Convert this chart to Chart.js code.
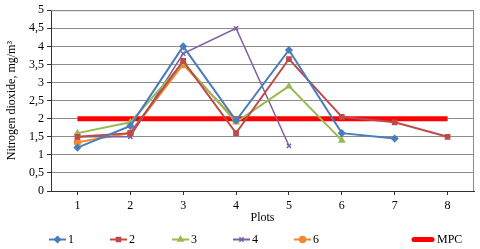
<!DOCTYPE html>
<html>
<head>
<meta charset="utf-8">
<script src="https://cdn.jsdelivr.net/npm/chart.js@4/dist/chart.umd.min.js"></script>
<style>
  html, body { margin: 0; padding: 0; background: #fff; }
  #wrap { width: 480px; height: 249px; }
</style>
</head>
<body>
<div id="wrap"><canvas id="chart" width="480" height="249"></canvas></div>
<script>
// ============================
// DATA
// ============================
const plots = ["1", "2", "3", "4", "5", "6", "7", "8"];

const series1 = [1.2, 1.8, 4.0, 1.95, 3.9, 1.6, 1.45, null];
const series2 = [1.5, 1.6, 3.6, 1.6, 3.65, 2.05, 1.9, 1.5];
const series3 = [1.6, 1.9, 3.55, 1.9, 2.9, 1.4, null, null];
const series4 = [1.5, 1.5, 3.8, 4.5, 1.25, null, null, null];
const series6 = [1.35, 1.6, 3.5, 1.95, null, null, null, null];
const mpc = [2, 2, 2, 2, 2, 2, 2, 2];

const yTicks = [0, 0.5, 1, 1.5, 2, 2.5, 3, 3.5, 4, 4.5, 5];

// ============================
// STYLE
// ============================
const FONT = "'Liberation Serif', 'DejaVu Serif', serif";
const GRID = "#8c8c8c";

function line(label, data, color, pointStyle, width) {
  return {
    label: label,
    data: data,
    borderColor: color,
    backgroundColor: color,
    borderWidth: width || 2,
    pointStyle: pointStyle,
    pointRadius: 3,
    pointBorderWidth: 1.5,
    pointBorderColor: color,
    pointBackgroundColor: color,
    spanGaps: false,
    tension: 0,
    fill: false
  };
}

const datasets = [
  line("1", series1, "#4a7ebb", "rectRot"),
  line("2", series2, "#be4b48", "rect"),
  line("3", series3, "#98b954", "triangle"),
  line("4", series4, "#7d60a0", "crossRot", 1.5),
  line("6", series6, "#f08a35", "circle"),
  Object.assign(line("MPC", mpc, "#ff0000", false, 5), { pointRadius: 0 })
];

// legend item x positions (line start)
const legendX = [49, 110, 172, 233, 294, 414];

// ============================
// PLUGINS
// ============================
const plotBorder = {
  id: "plotBorder",
  beforeDatasetsDraw(chart) {
    const a = chart.chartArea, ctx = chart.ctx;
    ctx.save();
    ctx.strokeStyle = GRID;
    ctx.lineWidth = 1;
    ctx.beginPath();
    ctx.moveTo(a.left, a.top + 0.5);
    ctx.lineTo(a.right - 0.5, a.top + 0.5);
    ctx.lineTo(a.right - 0.5, a.bottom);
    ctx.stroke();
    ctx.restore();
  }
};

const bottomLegend = {
  id: "bottomLegend",
  afterDraw(chart) {
    const ctx = chart.ctx;
    const y = 239.5;
    ctx.save();
    chart.data.datasets.forEach((ds, i) => {
      const x = legendX[i];
      const isMpc = ds.label === "MPC";
      const w = isMpc ? 18 : 17;
      ctx.strokeStyle = ds.borderColor;
      ctx.lineWidth = isMpc ? 5 : 2;
      ctx.lineCap = isMpc ? "round" : "butt";
      ctx.beginPath();
      ctx.moveTo(x, y);
      ctx.lineTo(x + w, y);
      ctx.stroke();
      if (ds.pointStyle) {
        ctx.lineWidth = 1.5;
        ctx.fillStyle = ds.borderColor;
        Chart.helpers.drawPoint(ctx, { pointStyle: ds.pointStyle, radius: 3, rotation: 0, borderWidth: 1.5 }, x + w / 2, y);
      }
      ctx.fillStyle = "#000";
      ctx.font = "12px " + FONT;
      ctx.textBaseline = "middle";
      ctx.fillText(ds.label, x + w + (isMpc ? 5 : 2), y);
    });
    ctx.restore();
  }
};

// ============================
// CHART
// ============================
new Chart(document.getElementById("chart"), {
  type: "line",
  data: { labels: plots, datasets: datasets },
  plugins: [plotBorder, bottomLegend],
  options: {
    responsive: false,
    animation: false,
    layout: { padding: { top: 8, right: 6, left: 0, bottom: 0 } },
    plugins: {
      legend: { display: false },
      tooltip: { enabled: false }
    },
    scales: {
      x: {
        offset: true,
        afterFit: (s) => { s.height = 58; },
        grid: { drawOnChartArea: false, offset: false, tickLength: 4, color: "#333" },
        border: { color: "#333" },
        ticks: { color: "#000", font: { family: FONT, size: 12 }, padding: 4, maxRotation: 0 },
        title: { display: true, text: "Plots", color: "#000", font: { family: FONT, size: 12 }, padding: { top: 0, bottom: 24 } }
      },
      y: {
        min: 0,
        max: 5,
        afterFit: (s) => { s.width = 51; },
        afterBuildTicks: (s) => { s.ticks = yTicks.map(v => ({ value: v })); },
        grid: { color: GRID, tickLength: 4, tickColor: "#333" },
        border: { color: "#333" },
        ticks: {
          color: "#000",
          font: { family: FONT, size: 12 },
          padding: 3,
          callback: (v) => String(v).replace(".", ",")
        },
        title: { display: true, text: "Nitrogen dioxide, mg/m³", color: "#000", font: { family: FONT, size: 12 }, padding: { top: 5, bottom: 0 } }
      }
    }
  }
});
</script>
</body>
</html>
